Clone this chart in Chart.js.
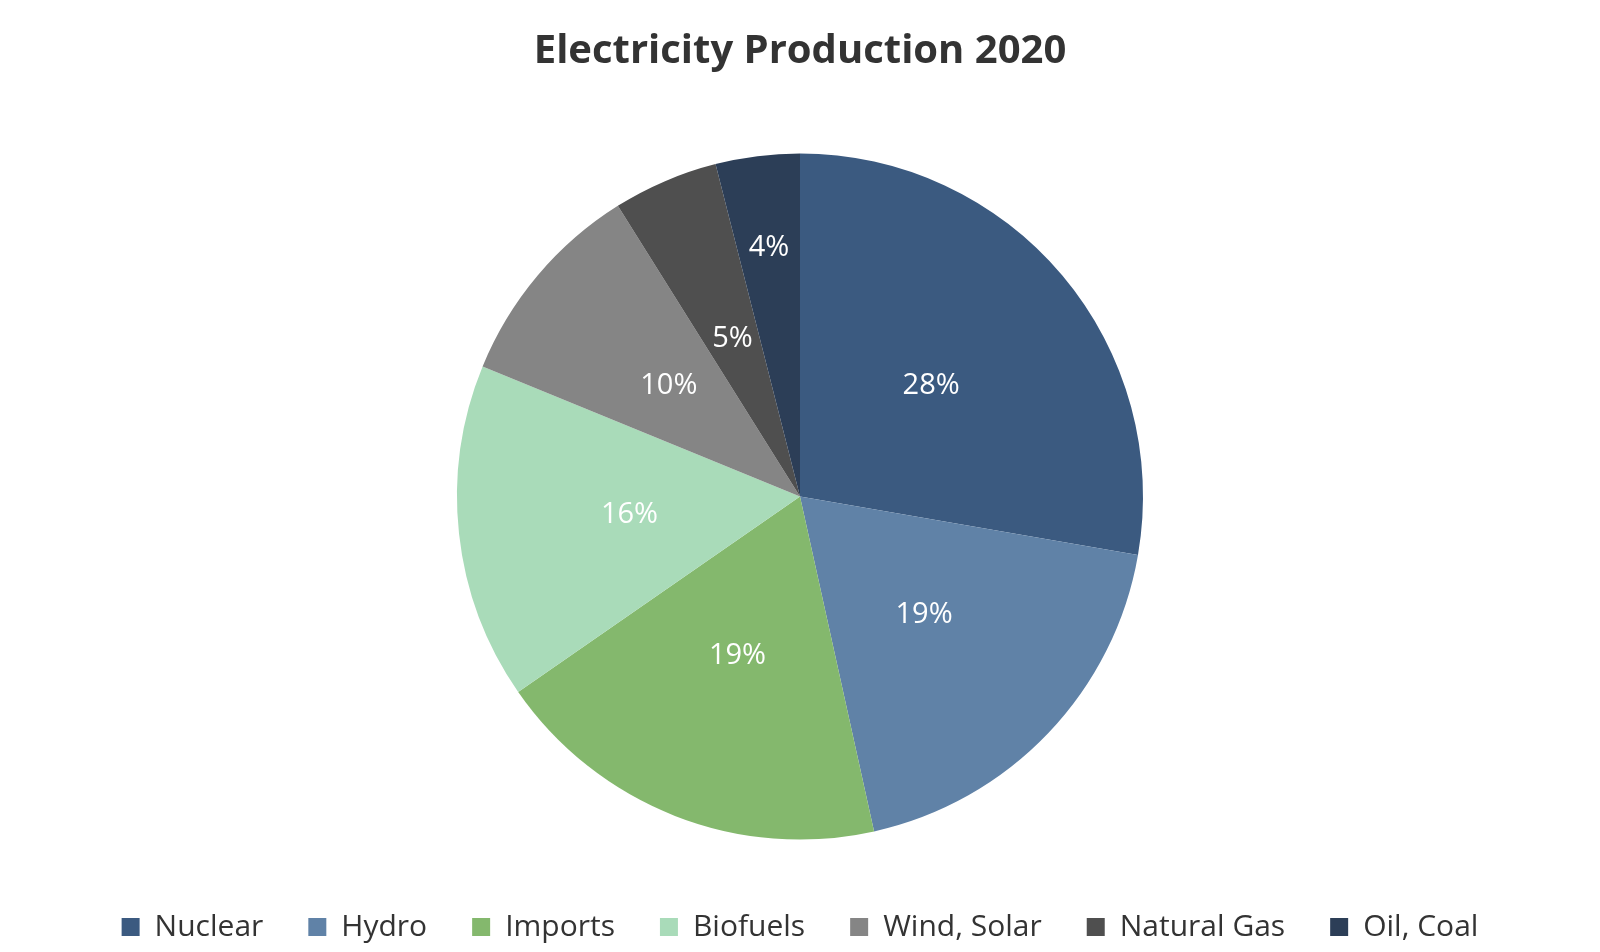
<!DOCTYPE html>
<html>
<head>
<meta charset="utf-8">
<script src="https://cdn.jsdelivr.net/npm/chart.js@4/dist/chart.umd.min.js"></script>
<style>
  html, body { margin: 0; padding: 0; background: #fff; }
  #wrap { width: 1600px; height: 952px; }
</style>
</head>
<body>
<div id="wrap"><canvas id="pieChart"></canvas></div>
<script>
  const labels = ["Nuclear", "Hydro", "Imports", "Biofuels", "Wind, Solar", "Natural Gas", "Oil, Coal"];
  const shares = [28, 19, 19, 16, 10, 5, 4];
  const colors = ["#3b5a80", "#6082a7", "#84b86d", "#a9dbb9", "#858585", "#4f4f4f", "#2c3e57"];

  const FONT = "'Open Sans', 'Noto Sans', sans-serif";

  // percent labels inside each slice (tiny slices pushed outward)
  const sliceLabels = {
    id: "sliceLabels",
    afterDatasetsDraw(chart) {
      const ctx = chart.ctx;
      const meta = chart.getDatasetMeta(0);
      ctx.save();
      ctx.fillStyle = "#fff";
      ctx.font = "29px " + FONT;
      ctx.textAlign = "center";
      ctx.textBaseline = "middle";
      meta.data.forEach((arc, i) => {
        const mid = (arc.startAngle + arc.endAngle) / 2;
        const f = shares[i] < 5 ? 0.73 : 0.5;
        const r = arc.outerRadius * f;
        ctx.fillText(shares[i] + "%", arc.x + Math.cos(mid) * r, arc.y + Math.sin(mid) * r);
      });
      ctx.restore();
    }
  };

  new Chart(document.getElementById("pieChart"), {
    type: "pie",
    data: {
      labels: labels,
      datasets: [{
        data: shares,
        backgroundColor: colors,
        borderWidth: 0,
        radius: 343
      }]
    },
    options: {
      responsive: true,
      maintainAspectRatio: false,
      animation: false,
      layout: { padding: { top: 0, bottom: 0 } },
      plugins: {
        title: {
          display: true,
          text: "Electricity Production 2020",
          color: "#333",
          font: { family: FONT, size: 40, weight: "bold" },
          padding: { top: 28, bottom: 50 }
        },
        legend: {
          position: "bottom",
          labels: {
            color: "#333",
            font: { family: FONT, size: 30 },
            boxWidth: 18,
            boxHeight: 18,
            padding: 45
          }
        },
        tooltip: { enabled: false }
      }
    },
    plugins: [sliceLabels]
  });
</script>
</body>
</html>
